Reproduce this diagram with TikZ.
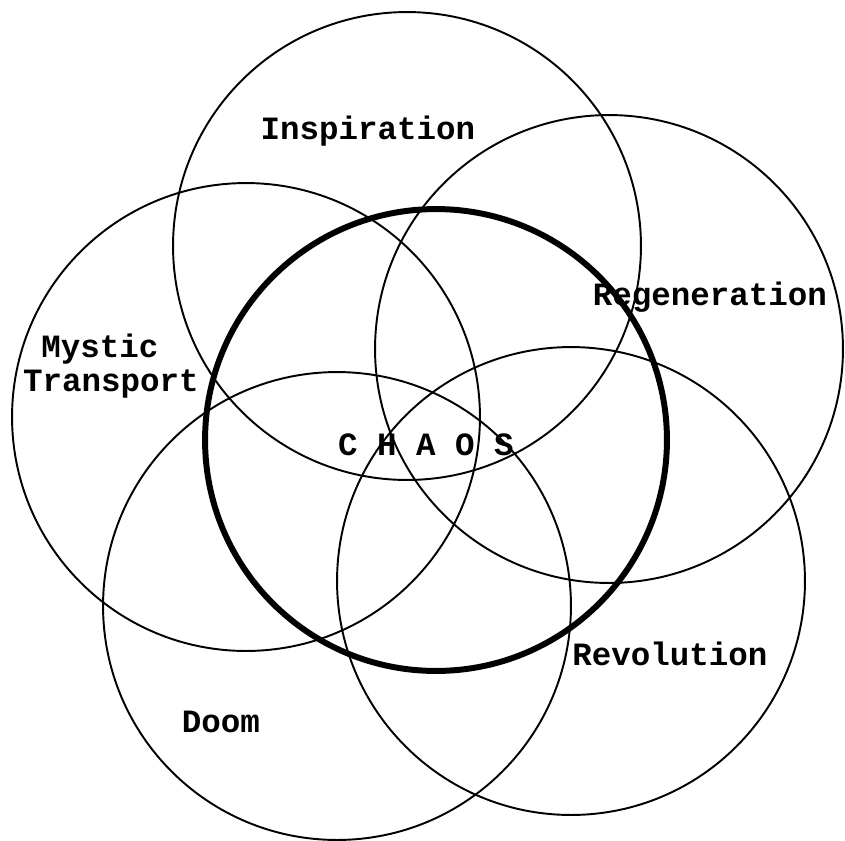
\documentclass[tikz,border=0pt]{standalone}
\usepackage{fontspec}
\setmonofont{Liberation Mono}
\usetikzlibrary{positioning}
\tikzset{
  ring/.style={line width=1.1pt},
  chaosring/.style={line width=3.4pt},
  lbl/.style={font=\ttfamily\bfseries\fontsize{18.5}{22}\selectfont, inner sep=0pt, anchor=base}
}
\begin{document}
\begin{tikzpicture}[x=0.02cm, y=-0.02cm]
  \useasboundingbox (0,0) rectangle (845,840);
  \foreach \x/\y in {407/246, 609/349, 571/581, 337/606, 246/417} {
    \draw[ring] (\x,\y) circle [radius=4.68cm];
  }
  \draw[chaosring] (436,440) circle [radius=4.62cm];
  \node[lbl] (insp) at (368,139) {Inspiration};
  \node[lbl] (regen) at (710,305) {Regeneration};
  \node[lbl] (mystic) at (100,357) {Mystic};
  \node[lbl] (transport) at (111,391) {Transport};
  \node[lbl] (chaos) at (426,455) {C H A O S};
  \node[lbl] (revol) at (670,665) {Revolution};
  \node[lbl] (doom) at (221,732) {Doom};
\end{tikzpicture}
\end{document}
